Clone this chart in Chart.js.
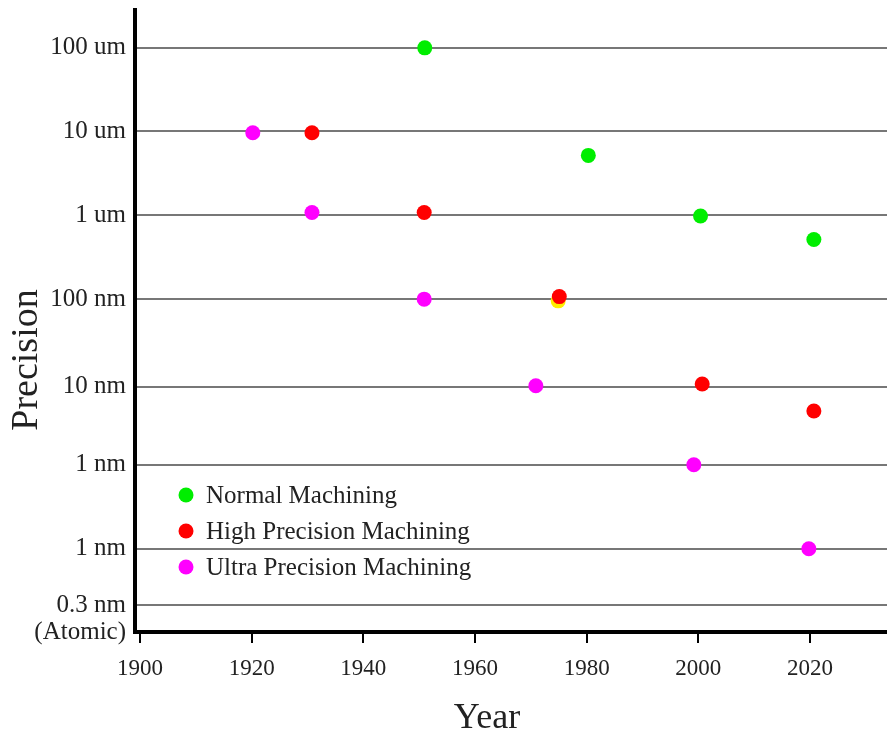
<!DOCTYPE html>
<html>
<head>
<meta charset="utf-8">
<title>Machining precision by year</title>
<script src="https://cdn.jsdelivr.net/npm/chart.js@4/dist/chart.umd.min.js"></script>
<style>
  html, body { margin: 0; padding: 0; background: #fff; }
  #wrap { width: 887px; height: 734px; }
</style>
</head>
<body>
<div id="wrap"><canvas id="chart" width="887" height="734"></canvas></div>
<script>
  // y axis is a hand-spaced precision scale: each level is one gridline
  const precisionLabels = ["100 um", "10 um", "1 um", "100 nm", "10 nm", "1 nm", "1 nm", "0.3 nm", "(Atomic)"];
  const precisionLevels = [6.63, 5.64, 4.64, 3.64, 2.6, 1.67, 0.67, 0, -0.32];
  const yearTicks = [1900, 1920, 1940, 1960, 1980, 2000, 2020];

  const normalYears = [1951, 1980.3, 2000.4, 2020.7];
  const normalLevels = [6.63, 5.35, 4.63, 4.35];

  const highYears = [1930.8, 1950.9, 1975.1, 2000.7, 2020.7];
  const highLevels = [5.62, 4.67, 3.67, 2.63, 2.31];

  const ultraYears = [1920.2, 1930.8, 1950.9, 1970.9, 1999.2, 2019.8];
  const ultraLevels = [5.62, 4.67, 3.64, 2.61, 1.67, 0.67];

  // the stray yellow dot sitting under the 1975 red one
  const extraYears = [1974.9];
  const extraLevels = [3.62];

  const FONT = "'Liberation Serif', 'Times New Roman', serif";

  function toPoints(xs, ys) {
    return xs.map((x, i) => ({ x: x, y: ys[i] }));
  }

  function dotSet(label, xs, ys, color, inLegend) {
    return {
      label: label,
      data: toPoints(xs, ys),
      backgroundColor: color,
      borderColor: color,
      borderWidth: 0,
      pointRadius: 7.5,
      inLegend: inLegend,
    };
  }

  // legend drawn inside the plot area, lower left
  const innerLegend = {
    id: "innerLegend",
    afterDraw(chart) {
      const ctx = chart.ctx;
      const area = chart.chartArea;
      const rows = chart.data.datasets.filter((d) => d.inLegend);
      ctx.save();
      ctx.font = "25px " + FONT;
      ctx.textBaseline = "middle";
      ctx.textAlign = "left";
      rows.forEach((d, i) => {
        const y = area.top + 485 + i * 36;
        const x = area.left + 51;
        ctx.fillStyle = d.backgroundColor;
        ctx.beginPath();
        ctx.arc(x, y, 7.5, 0, Math.PI * 2);
        ctx.fill();
        ctx.fillStyle = "#222";
        ctx.fillText(d.label, x + 20, y + 1);
      });
      ctx.restore();
    },
  };

  // axis titles sit a little off-centre, so they are placed by hand
  const axisTitles = {
    id: "axisTitles",
    afterDraw(chart) {
      const ctx = chart.ctx;
      const area = chart.chartArea;
      ctx.save();
      ctx.fillStyle = "#222";
      ctx.textAlign = "center";
      ctx.textBaseline = "middle";
      ctx.font = "36px " + FONT;
      ctx.fillText("Year", area.left + 352, area.bottom + 87);
      ctx.translate(27, area.top + 350);
      ctx.rotate(-Math.PI / 2);
      ctx.font = "38px " + FONT;
      ctx.fillText("Precision", 0, 0);
      ctx.restore();
    },
  };

  new Chart(document.getElementById("chart"), {
    type: "scatter",
    data: {
      datasets: [
        dotSet("Normal Machining", normalYears, normalLevels, "#00ee00", true),
        dotSet("High Precision Machining", highYears, highLevels, "#ff0000", true),
        dotSet("Ultra Precision Machining", ultraYears, ultraLevels, "#ff00ff", true),
        dotSet("", extraYears, extraLevels, "#ffee00", false),
      ],
    },
    options: {
      responsive: false,
      animation: false,
      layout: { autoPadding: false, padding: { top: 10, left: 0, right: 0, bottom: 0 } },
      plugins: {
        legend: { display: false },
        tooltip: { enabled: false },
      },
      scales: {
        x: {
          type: "linear",
          min: 1899.1,
          max: 2033.8,
          afterBuildTicks(scale) {
            scale.ticks = yearTicks.map((v) => ({ value: v }));
          },
          afterFit(scale) {
            scale.height = 102;
            scale.paddingLeft = 0;
            scale.paddingRight = 0;
          },
          border: { display: true, color: "#000", width: 4 },
          grid: {
            drawOnChartArea: false,
            drawTicks: true,
            tickLength: 11,
            color: "#000",
            lineWidth: 2,
          },
          ticks: {
            padding: 12,
            color: "#222",
            font: { family: FONT, size: 23 },
            callback: (v) => String(v),
          },
        },
        y: {
          type: "linear",
          min: -0.32,
          max: 7.08,
          afterBuildTicks(scale) {
            scale.ticks = precisionLevels.map((v) => ({ value: v }));
          },
          afterFit(scale) {
            scale.width = 135;
            scale.paddingTop = 0;
            scale.paddingBottom = 0;
          },
          border: { display: true, color: "#000", width: 4 },
          grid: {
            drawTicks: false,
            lineWidth: 2,
            color: (c) => (c.tick && c.tick.value === -0.32 ? "rgba(0,0,0,0)" : "#777"),
          },
          ticks: {
            padding: 9,
            color: "#222",
            font: { family: FONT, size: 25 },
            callback: (v) => {
              const i = precisionLevels.indexOf(v);
              return i >= 0 ? precisionLabels[i] : "";
            },
          },
        },
      },
    },
    plugins: [innerLegend, axisTitles],
  });
</script>
</body>
</html>
